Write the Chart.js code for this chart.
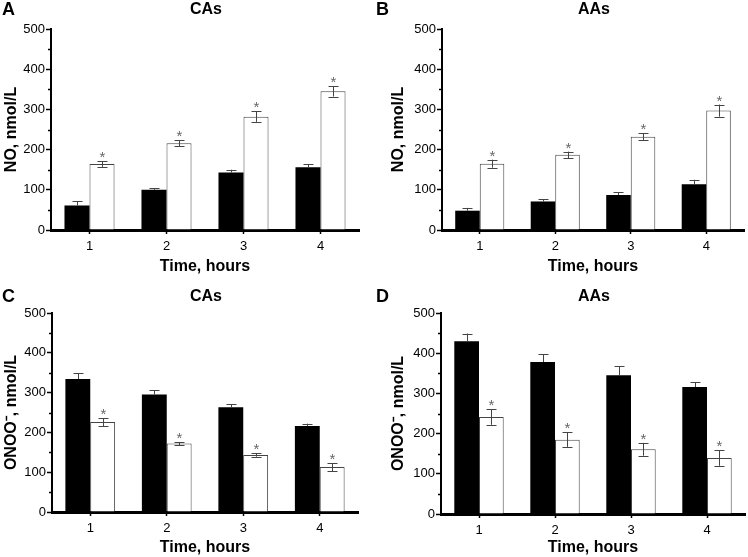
<!DOCTYPE html>
<html>
<head>
<meta charset="utf-8">
<script src="https://cdn.jsdelivr.net/npm/chart.js@4.4.0/dist/chart.umd.min.js"></script>
<style>
  body { margin: 0; background: #fff; width: 748px; height: 557px; position: relative; overflow: hidden; }
  canvas { position: absolute; }
</style>
</head>
<body>
<canvas id="panelA" width="374" height="280" style="left:0;top:0"></canvas>
<canvas id="panelB" width="374" height="280" style="left:374px;top:0"></canvas>
<canvas id="panelC" width="374" height="277" style="left:0;top:280px"></canvas>
<canvas id="panelD" width="374" height="277" style="left:374px;top:280px"></canvas>
<script>
// categories
const hours = ["1", "2", "3", "4"];
const yTicks = [0, 100, 200, 300, 400, 500];

// A: NO, CAs
const noCAsBlack = [61, 100, 143, 156];
const noCAsBlackErr = [11, 4, 7, 7];
const noCAsWhite = [164, 216, 282, 345];
const noCAsWhiteErr = [7, 7, 13, 13];

// B: NO, AAs
const noAAsBlack = [48, 71, 87, 114];
const noAAsBlackErr = [7, 5, 7, 11];
const noAAsWhite = [165, 187, 232, 297];
const noAAsWhiteErr = [10, 8, 9, 15];

// C: ONOO-, CAs
const onooCAsBlack = [334, 295, 263, 216];
const onooCAsBlackErr = [14, 11, 8, 6];
const onooCAsWhite = [226, 172, 143, 113];
const onooCAsWhiteErr = [10, 4, 4, 10];

// D: ONOO-, AAs
const onooAAsBlack = [430, 378, 345, 316];
const onooAAsBlackErr = [19, 20, 22, 12];
const onooAAsWhite = [241, 185, 161, 139];
const onooAAsWhiteErr = [19, 18, 16, 19];

const FONT = "'Liberation Sans', Arial, sans-serif";

// error bars, asterisks, minor ticks, panel letter and title
const extras = {
  id: "extras",
  afterDatasetsDraw(chart) {
    const ctx = chart.ctx;
    const y = chart.scales.y;
    ctx.save();
    chart.data.datasets.forEach((ds, i) => {
      const meta = chart.getDatasetMeta(i);
      meta.data.forEach((bar, j) => {
        const v = ds.data[j], e = ds.err[j];
        const top = y.getPixelForValue(v + e);
        const bot = ds.twoSided ? y.getPixelForValue(v - e) : y.getPixelForValue(v);
        const x = Math.round(bar.x) + 0.5;
        ctx.strokeStyle = "#444";
        ctx.lineWidth = 1;
        ctx.beginPath();
        ctx.moveTo(x, top); ctx.lineTo(x, bot);
        ctx.moveTo(x - 5, Math.round(top) + 0.5); ctx.lineTo(x + 5, Math.round(top) + 0.5);
        if (ds.twoSided) {
          ctx.moveTo(x - 5, Math.round(bot) + 0.5); ctx.lineTo(x + 5, Math.round(bot) + 0.5);
        }
        ctx.stroke();
        if (ds.star) {
          ctx.fillStyle = "#666";
          ctx.font = "15px " + FONT;
          ctx.textAlign = "center";
          ctx.textBaseline = "alphabetic";
          ctx.fillText("*", x, top + 1);
        }
      });
    });
    ctx.restore();
  },
  afterDraw(chart, args, opts) {
    const ctx = chart.ctx;
    const y = chart.scales.y;
    const left = chart.chartArea.left;
    ctx.save();
    ctx.strokeStyle = "#000";
    ctx.lineWidth = 1.5;
    ctx.beginPath();
    for (let v = 50; v < 500; v += 100) {
      const py = Math.round(y.getPixelForValue(v)) + 0.5;
      ctx.moveTo(left - 3, py); ctx.lineTo(left, py);
    }
    ctx.stroke();
    ctx.fillStyle = "#000";
    ctx.textBaseline = "middle";
    ctx.font = "bold 18px " + FONT;
    ctx.textAlign = "left";
    ctx.fillText(opts.letter, opts.letterX, opts.headY);
    ctx.font = "bold 16px " + FONT;
    ctx.textAlign = "center";
    ctx.fillText(opts.title, opts.titleX, opts.headY);
    ctx.restore();
  }
};

function makePanel(id, p) {
  const canvas = document.getElementById(id);
  const H = canvas.height, W = canvas.width;
  new Chart(canvas, {
    type: "bar",
    data: {
      labels: hours,
      datasets: [
        { data: p.black, err: p.blackErr, twoSided: false, star: false,
          backgroundColor: "#000", borderColor: "#000", borderWidth: 0 },
        { data: p.white, err: p.whiteErr, twoSided: true, star: true,
          backgroundColor: "#fff", borderColor: "#444", borderWidth: 1 }
      ]
    },
    options: {
      responsive: false,
      animation: false,
      devicePixelRatio: 1,
      categoryPercentage: 0.65,
      barPercentage: 1.0,
      layout: { padding: { top: p.area[1], right: W - p.area[2], left: 0, bottom: 0 } },
      plugins: {
        legend: { display: false },
        tooltip: { enabled: false },
        title: { display: false },
        extras: { letter: p.letter, title: p.title, letterX: 2, titleX: p.titleX, headY: p.headY }
      },
      scales: {
        x: {
          type: "category",
          afterFit: (s) => { s.height = H - p.area[3]; },
          grid: { display: true, offset: false, drawOnChartArea: false, drawTicks: true,
                  tickLength: 4, tickColor: "#000", tickWidth: 1.5 },
          border: { display: true, color: "#000", width: 3 },
          ticks: { color: "#000", padding: 5, font: { family: FONT, size: 13 } },
          title: { display: true, text: "Time, hours", color: "#000",
                   font: { family: FONT, size: 16, weight: "bold", lineHeight: 1 },
                   padding: { top: 0, bottom: p.xTitlePad } }
        },
        y: {
          min: 0, max: 500,
          afterBuildTicks: (s) => { s.ticks = yTicks.map(v => ({ value: v })); },
          afterFit: (s) => { s.width = p.area[0]; },
          grid: { display: true, drawOnChartArea: false, drawTicks: true,
                  tickLength: 5, tickColor: "#000", tickWidth: 1.5 },
          border: { display: true, color: "#000", width: 2 },
          ticks: { color: "#000", padding: 1, font: { family: FONT, size: 13 } },
          title: { display: true, text: p.yTitle, color: "#000",
                   font: { family: FONT, size: 16, weight: "bold", lineHeight: 1 },
                   padding: { top: p.yTitlePad, bottom: 0 } }
        }
      }
    },
    plugins: [extras]
  });
}

makePanel("panelA", { letter: "A", title: "CAs", titleX: 206, headY: 10, yTitle: "NO, nmol/L",
  area: [51, 29, 359, 230], xTitlePad: 5, yTitlePad: 4,
  black: noCAsBlack, blackErr: noCAsBlackErr, white: noCAsWhite, whiteErr: noCAsWhiteErr });
makePanel("panelB", { letter: "B", title: "AAs", titleX: 220, headY: 10, yTitle: "NO, nmol/L",
  area: [68, 29, 370, 230], xTitlePad: 5, yTitlePad: 17,
  black: noAAsBlack, blackErr: noAAsBlackErr, white: noAAsWhite, whiteErr: noAAsWhiteErr });
makePanel("panelC", { letter: "C", title: "CAs", titleX: 206, headY: 17, yTitle: "ONOO\u207B, nmol/L",
  area: [52, 33, 358, 232], xTitlePad: 1, yTitlePad: 4,
  black: onooCAsBlack, blackErr: onooCAsBlackErr, white: onooCAsWhite, whiteErr: onooCAsWhiteErr });
makePanel("panelD", { letter: "D", title: "AAs", titleX: 220, headY: 17, yTitle: "ONOO\u207B, nmol/L",
  area: [67, 33, 371, 234], xTitlePad: 1, yTitlePad: 17,
  black: onooAAsBlack, blackErr: onooAAsBlackErr, white: onooAAsWhite, whiteErr: onooAAsWhiteErr });
</script>
</body>
</html>
